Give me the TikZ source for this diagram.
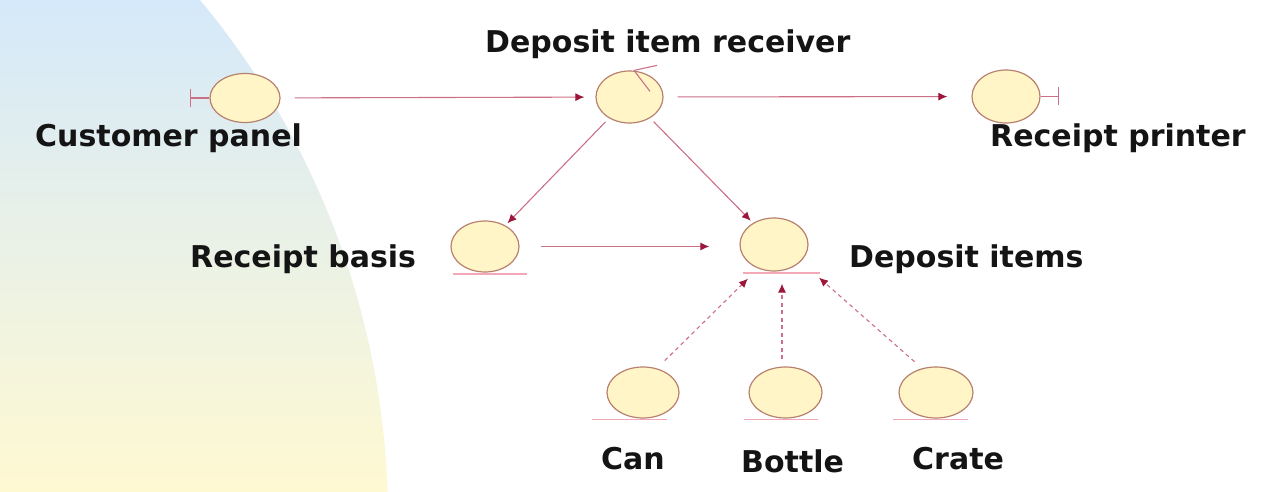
\documentclass[tikz,border=0pt]{standalone}
\usepackage{fontspec}
\setmainfont{DejaVu Sans}
\usetikzlibrary{shapes.geometric,arrows.meta,calc}
\definecolor{bgblue}{HTML}{D5E9FA}
\definecolor{bgmid}{HTML}{EEF5EC}
\definecolor{bgyellow}{HTML}{FFF9D2}
\definecolor{objfill}{HTML}{FFF5C6}
\definecolor{objdraw}{HTML}{B8806E}
\definecolor{linkc}{HTML}{CC7088}
\definecolor{tipc}{HTML}{9C173A}
\definecolor{ulc}{HTML}{F2A8B6}
\begin{document}
\begin{tikzpicture}[x=1pt,y=-1pt,
  obj/.style={ellipse,draw=objdraw,line width=1.2pt,fill=objfill,inner sep=0pt},
  lbl/.style={font=\fontsize{30}{36}\selectfont\bfseries,text=black!92,inner sep=0pt,anchor=base west},
  link/.style={draw=linkc,line width=1.1pt,-{Latex[length=9pt,width=8pt,color=tipc]}},
  dlink/.style={link,dash pattern=on 4pt off 3.5pt},
  uline/.style={draw=ulc,line width=1.3pt},
  bsym/.style={draw=linkc,line width=1.1pt}]
\useasboundingbox (0,0) rectangle (1270,492);
\fill[white] (0,0) rectangle (1270,492);
\begin{scope}
  \clip (-425,520) circle (813);
  \shade[top color=bgblue,middle color=bgmid,bottom color=bgyellow] (0,0) rectangle (400,492);
\end{scope}

% nodes
\node[obj,minimum width=70pt,minimum height=49pt] (cp) at (245,98) {};
\node[obj,minimum width=67pt,minimum height=52pt] (dir) at (629.5,97) {};
\node[obj,minimum width=68pt,minimum height=53pt] (rp) at (1006,96.5) {};
\node[obj,minimum width=68pt,minimum height=51pt] (rb) at (485,246.5) {};
\node[obj,minimum width=68pt,minimum height=53pt] (di) at (774,244.5) {};
\node[obj,minimum width=72pt,minimum height=51pt] (can) at (643,392.5) {};
\node[obj,minimum width=73pt,minimum height=51pt] (bot) at (785.5,392.5) {};
\node[obj,minimum width=74pt,minimum height=51pt] (cra) at (936,392.5) {};

% boundary symbols
\coordinate (cpb) at ($(cp.west)+(-19,0)$);
\draw[bsym] (cp.west) -- (cpb);
\draw[bsym] ($(cpb)+(0,-9)$) -- ($(cpb)+(0,9)$);
\coordinate (rpb) at ($(rp.east)+(18,0)$);
\draw[bsym] (rp.east) -- (rpb);
\draw[bsym] ($(rpb)+(0,-9)$) -- ($(rpb)+(0,9)$);

% control symbol
\coordinate (ctl) at ($(dir.north)+(4.5,0)$);
\draw[bsym] (ctl) -- ++(23,-5);
\draw[bsym] (ctl) -- ++(16,21);

% entity underlines
\draw[uline] ($(rb.south)+(-32,1.5)$) -- ($(rb.south)+(42,1.5)$);
\draw[uline] ($(di.south)+(-31,1.5)$) -- ($(di.south)+(46,1.5)$);
\draw[uline] ($(can.south)+(-51,1)$) -- ($(can.south)+(24,1)$);
\draw[uline] ($(bot.south)+(-42,1)$) -- ($(bot.south)+(32,1)$);
\draw[uline] ($(cra.south)+(-43,1)$) -- ($(cra.south)+(32,1)$);

% labels
\node[lbl] (lcp) at (35,147) {Customer panel};
\node[lbl] (ldir) at (485,53) {Deposit item receiver};
\node[lbl] (lrp) at (990,147) {Receipt printer};
\node[lbl] (lrb) at (190,267) {Receipt basis};
\node[lbl] (ldi) at (849,267) {Deposit items};
\node[lbl] (lcan) at (601,469) {Can};
\node[lbl] (lbot) at (741,472) {Bottle};
\node[lbl] (lcra) at (912,469) {Crate};

% connectors
\draw[link,shorten <=14pt,shorten >=11pt] (cp) -- (dir);
\draw[link,shorten <=14pt,shorten >=24pt] (dir) -- (rp);
\draw[link,shorten <=5pt,shorten >=3pt] (dir) -- (rb);
\draw[link,shorten <=5pt,shorten >=3pt] (dir) -- (di);
\draw[link,shorten <=21pt,shorten >=30pt] (rb.east) -- (rb.east -| di.west);

\coordinate (t1) at ($(di.south)+(-26,7)$);
\coordinate (t2) at ($(di.south)+(8,12)$);
\coordinate (t3) at ($(di.south)+(45,6)$);
\draw[dlink,shorten <=11pt] (can.60) -- (t1);
\draw[dlink,shorten <=7pt] ($(bot.north)+(-3.5,0)$) -- (t2);
\draw[dlink,shorten <=10pt] (cra.120) -- (t3);
\end{tikzpicture}
\end{document}
